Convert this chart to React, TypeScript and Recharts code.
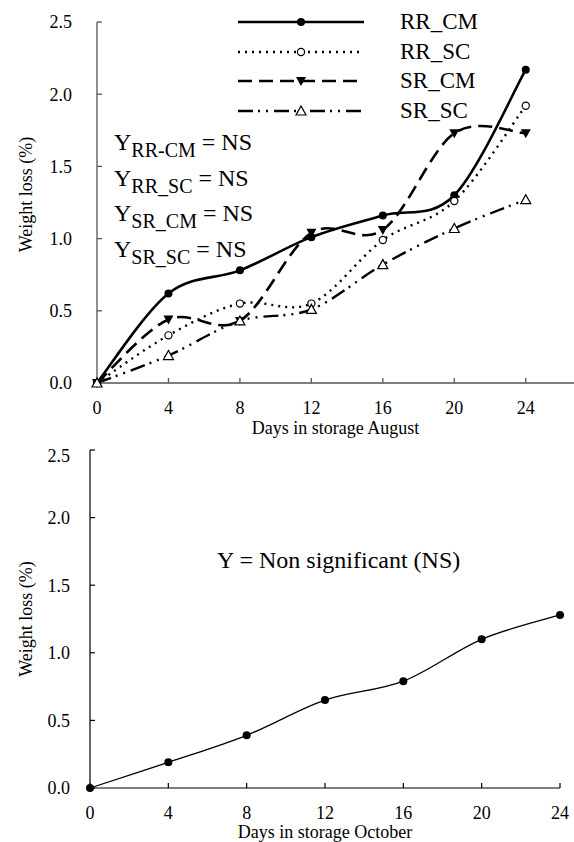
import React from 'react';
import { LineChart, Line, XAxis, YAxis, Legend, Label } from 'recharts';

// storage days (x) and weight loss values (%)
const days = [0, 4, 8, 12, 16, 20, 24];
const rrCm = [0, 0.62, 0.78, 1.01, 1.16, 1.3, 2.17];
const rrSc = [0, 0.33, 0.55, 0.55, 0.99, 1.26, 1.92];
const srCm = [0, 0.44, 0.43, 1.04, 1.06, 1.73, 1.73];
const srSc = [0, 0.19, 0.43, 0.51, 0.82, 1.07, 1.27];
const october = [0, 0.19, 0.39, 0.65, 0.79, 1.1, 1.28];

const xTicks = [0, 4, 8, 12, 16, 20, 24];
const yTicks = [0, 0.5, 1.0, 1.5, 2.0, 2.5];

const seriesNames = ['RR_CM', 'RR_SC', 'SR_CM', 'SR_SC'];
const nsNotes = [
  ['RR-CM', ' = NS'],
  ['RR_SC', ' = NS'],
  ['SR_CM', ' = NS'],
  ['SR_SC', ' = NS'],
];

const font = "'Liberation Serif', 'Times New Roman', serif";

const augustData = days.map((d, i) => ({
  day: d,
  RR_CM: rrCm[i],
  RR_SC: rrSc[i],
  SR_CM: srCm[i],
  SR_SC: srSc[i],
}));
const octoberData = days.map((d, i) => ({ day: d, loss: october[i] }));

// Excel-like smoothed line (cardinal spline through the points)
const smoothCurve: any = (context: any) => {
  let pts: [number, number][] = [];
  return {
    areaStart() {},
    areaEnd() {},
    lineStart() {
      pts = [];
    },
    point(x: number, y: number) {
      pts.push([+x, +y]);
    },
    lineEnd() {
      if (!pts.length) return;
      context.moveTo(pts[0][0], pts[0][1]);
      for (let i = 0; i < pts.length - 1; i++) {
        const p0 = pts[Math.max(0, i - 1)];
        const p1 = pts[i];
        const p2 = pts[i + 1];
        const p3 = pts[Math.min(pts.length - 1, i + 2)];
        context.bezierCurveTo(
          p1[0] + (p2[0] - p0[0]) / 6,
          p1[1] + (p2[1] - p0[1]) / 6,
          p2[0] - (p3[0] - p1[0]) / 6,
          p2[1] - (p3[1] - p1[1]) / 6,
          p2[0],
          p2[1]
        );
      }
    },
  };
};

type MarkerKind = 'dot' | 'ring' | 'down' | 'up';

const Marker = ({ kind, cx, cy }: { kind: MarkerKind; cx: number; cy: number }) => {
  if (kind === 'dot') return <circle cx={cx} cy={cy} r={4} fill="#000" />;
  if (kind === 'ring') return <circle cx={cx} cy={cy} r={3.6} fill="#fff" stroke="#000" strokeWidth={1.2} />;
  if (kind === 'down')
    return <polygon points={`${cx - 5},${cy - 4} ${cx + 5},${cy - 4} ${cx},${cy + 5}`} fill="#000" />;
  return (
    <polygon
      points={`${cx - 5},${cy + 4} ${cx + 5},${cy + 4} ${cx},${cy - 5}`}
      fill="#fff"
      stroke="#000"
      strokeWidth={1.2}
    />
  );
};

const seriesStyle: Record<string, { dash?: string; width: number; marker: MarkerKind }> = {
  RR_CM: { width: 2.6, marker: 'dot' },
  RR_SC: { dash: '2 5', width: 2.4, marker: 'ring' },
  SR_CM: { dash: '14 7', width: 2.6, marker: 'down' },
  SR_SC: { dash: '15 5 2 6 2 6', width: 2.4, marker: 'up' },
};

const markerDot = (kind: MarkerKind) => (p: any) =>
  <Marker key={`m-${kind}-${p.index}`} kind={kind} cx={p.cx} cy={p.cy} />;

const LegendBox = () => (
  <div style={{ fontFamily: font, fontSize: 23, color: '#000', width: 300 }}>
    {seriesNames.map((name) => {
      const s = seriesStyle[name];
      return (
        <div key={name} style={{ display: 'flex', alignItems: 'center', height: 29.7 }}>
          <svg width={126} height={20} style={{ display: 'block', flexShrink: 0 }}>
            <line x1={0} y1={10} x2={126} y2={10} stroke="#000" strokeWidth={s.width} strokeDasharray={s.dash} />
            <Marker kind={s.marker} cx={63} cy={10} />
          </svg>
          <span style={{ marginLeft: 36, lineHeight: '29.7px', whiteSpace: 'nowrap' }}>{name}</span>
        </div>
      );
    })}
  </div>
);

const xTitle = (text: string, dy: number) => (props: any) => {
  const vb = props.viewBox || { x: 0, y: 0, width: 0 };
  return (
    <text x={vb.x + vb.width / 2} y={vb.y + dy} textAnchor="middle" fontSize={18} fontFamily={font} fill="#000">
      {text}
    </text>
  );
};

const yTitle = (text: string, cx: number, shift: number) => (props: any) => {
  const vb = props.viewBox || { y: 0, height: 0 };
  const cy = vb.y + vb.height / 2 + shift;
  return (
    <text
      x={cx}
      y={cy}
      transform={`rotate(-90, ${cx}, ${cy})`}
      textAnchor="middle"
      dominantBaseline="central"
      fontSize={18}
      fontFamily={font}
      fill="#000"
    >
      {text}
    </text>
  );
};

const tickStyle = { fill: '#000', fontSize: 18, fontFamily: font };

const App = () => {
  return (
    <div
      style={{
        position: 'absolute',
        left: 0,
        top: 0,
        width: 574,
        height: 842,
        overflow: 'hidden',
        background: '#fff',
        fontFamily: font,
      }}
    >
      <LineChart
        width={574}
        height={445}
        data={augustData}
        margin={{ top: 22, right: 0, bottom: 0, left: 0 }}
        style={{ fontFamily: font }}
      >
        <XAxis
          dataKey="day"
          type="number"
          domain={[0, 26.7]}
          ticks={xTicks}
          height={62}
          tickSize={-5}
          tickMargin={23}
          tick={tickStyle}
          axisLine={{ stroke: '#555', strokeWidth: 1.3 }}
          tickLine={{ stroke: '#555', strokeWidth: 1.3 }}
        >
          <Label content={xTitle('Days in storage August', 51)} />
        </XAxis>
        <YAxis
          type="number"
          domain={[0, 2.5]}
          ticks={yTicks}
          width={97}
          tickSize={-5}
          tickMargin={30}
          tick={tickStyle}
          tickFormatter={(v: number) => v.toFixed(1)}
          axisLine={{ stroke: '#555', strokeWidth: 1.3 }}
          tickLine={{ stroke: '#555', strokeWidth: 1.3 }}
        >
          <Label content={yTitle('Weight loss (%)', 26, -8)} />
        </YAxis>
        <Legend
          layout="vertical"
          align="center"
          verticalAlign="middle"
          content={<LegendBox />}
          wrapperStyle={{ left: 238, top: 7, width: 300, height: 120 }}
        />
        {seriesNames.map((name) => {
          const s = seriesStyle[name];
          return (
            <Line
              key={name}
              dataKey={name}
              type={smoothCurve}
              stroke="#000"
              strokeWidth={s.width}
              strokeDasharray={s.dash}
              dot={markerDot(s.marker)}
              activeDot={false}
              isAnimationActive={false}
            />
          );
        })}
        <g fontFamily={font} fill="#000">
          {nsNotes.map(([sub, rest], i) => (
            <text key={sub} x={114} y={150 + i * 35.7} fontSize={24}>
              <tspan>Y</tspan>
              <tspan fontSize={20} dy={7}>
                {sub}
              </tspan>
              <tspan dy={-7}>{rest}</tspan>
            </text>
          ))}
        </g>
      </LineChart>
      <LineChart
        width={574}
        height={397}
        data={octoberData}
        margin={{ top: 5, right: 14, bottom: 0, left: 0 }}
        style={{ fontFamily: font }}
      >
        <XAxis
          dataKey="day"
          type="number"
          domain={[0, 24]}
          ticks={xTicks}
          height={54}
          tickSize={-5}
          tickMargin={23}
          tick={tickStyle}
          axisLine={{ stroke: '#000', strokeWidth: 1.2 }}
          tickLine={{ stroke: '#000', strokeWidth: 1.2 }}
        >
          <Label content={xTitle('Days in storage October', 50)} />
        </XAxis>
        <YAxis
          type="number"
          domain={[0, 2.5]}
          ticks={yTicks}
          width={90}
          tickSize={-5}
          tickMargin={25}
          tick={tickStyle}
          tickFormatter={(v: number) => v.toFixed(1)}
          axisLine={{ stroke: '#000', strokeWidth: 1.2 }}
          tickLine={{ stroke: '#000', strokeWidth: 1.2 }}
        >
          <Label content={yTitle('Weight loss (%)', 26, 0)} />
        </YAxis>
        <Line
          dataKey="loss"
          type={smoothCurve}
          stroke="#000"
          strokeWidth={1.3}
          dot={markerDot('dot')}
          activeDot={false}
          isAnimationActive={false}
        />
        <text x={217} y={123} fontSize={24} fontFamily={font} fill="#000">
          Y = Non significant (NS)
        </text>
      </LineChart>
    </div>
  );
};

export default App;
